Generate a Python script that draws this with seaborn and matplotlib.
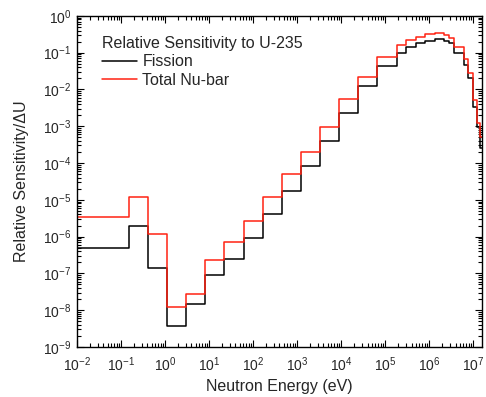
import numpy as np
import pandas as pd
import matplotlib
matplotlib.use("Agg")
import matplotlib.pyplot as plt
import seaborn as sns
from matplotlib.ticker import LogLocator, LogFormatterSciNotation, NullFormatter

# Energy group boundaries (eV)
group_edges = [1e-2, 0.152, 0.414, 1.125, 3.06, 8.32, 22.6, 61.4, 167, 454,
               1234, 3355, 9119, 24788, 67379, 183156, 301974, 497871, 820850,
               1.353e6, 2.231e6, 2.865e6, 3.679e6, 6.065e6, 7.788e6, 1.0e7,
               1.22e7, 1.42e7, 2.0e7]

# Relative sensitivity per unit lethargy in each group
fission = [4.8e-7, 1.95e-6, 1.38e-7, 3.8e-9, 1.48e-8, 9.1e-8, 2.5e-7, 9.4e-7,
           4.1e-6, 1.74e-5, 8.5e-5, 4.0e-4, 2.26e-3, 1.23e-2, 4.46e-2, 0.097,
           0.141, 0.188, 0.213, 0.233, 0.213, 0.181, 0.100, 0.0466, 0.0206,
           3.36e-3, 9.6e-4, 2.6e-4]
total_nubar = [3.5e-6, 1.17e-5, 1.18e-6, 1.25e-8, 2.7e-8, 2.3e-7, 7.0e-7,
               2.7e-6, 1.2e-5, 5.0e-5, 2.04e-4, 9.8e-4, 5.4e-3, 2.24e-2, 7.8e-2,
               0.163, 0.222, 0.274, 0.324, 0.339, 0.304, 0.248, 0.146, 0.0665,
               0.0277, 5.2e-3, 1.23e-3, 5.1e-4]

series_names = ["Fission", "Total Nu-bar"]
series_colors = {"Fission": "black", "Total Nu-bar": "#ff2212"}

frames = []
for name, vals in zip(series_names, [fission, total_nubar]):
    frames.append(pd.DataFrame({
        "energy": group_edges,
        "value": list(vals) + [vals[-1]],
        "series": name,
    }))
df = pd.concat(frames, ignore_index=True)

sns.set_style("ticks")
plt.rcParams["font.family"] = ["Liberation Sans", "DejaVu Sans"]
plt.rcParams["mathtext.fontset"] = "custom"
plt.rcParams["mathtext.rm"] = "Liberation Sans"
plt.rcParams["mathtext.it"] = "Liberation Sans:italic"
plt.rcParams["mathtext.bf"] = "Liberation Sans:bold"

fig = plt.figure(figsize=(4.86, 3.97), dpi=100)
ax = fig.add_axes([0.158, 0.126, 0.834, 0.834])

sns.lineplot(data=df, x="energy", y="value", hue="series",
             hue_order=series_names, palette=series_colors,
             drawstyle="steps-post", linewidth=1.1, estimator=None,
             sort=False, ax=ax)

ax.set_xscale("log")
ax.set_yscale("log")
ax.set_xlim(1e-2, 1.6e7)
ax.set_ylim(1e-9, 1e0)

for axis in (ax.xaxis, ax.yaxis):
    axis.set_major_locator(LogLocator(base=10, numticks=20))
    axis.set_minor_locator(LogLocator(base=10, subs=np.arange(2, 10), numticks=200))
    axis.set_major_formatter(LogFormatterSciNotation())
    axis.set_minor_formatter(NullFormatter())

ax.tick_params(which="both", direction="in", top=True, right=True,
               color="black", width=0.8)
ax.tick_params(which="major", length=5, labelsize=10)
ax.tick_params(which="minor", length=3)
ax.tick_params(axis="x", which="major", pad=6)
ax.tick_params(axis="y", which="major", pad=4)
for sp in ax.spines.values():
    sp.set_visible(True)
    sp.set_linewidth(1.0)
    sp.set_color("black")

ax.set_xlabel("Neutron Energy (eV)", fontsize=11.5, labelpad=4)
ax.set_ylabel("Relative Sensitivity/\u0394U", fontsize=11.5, labelpad=10)

handles, labels = ax.get_legend_handles_labels()
ax.legend(handles, labels, title="Relative Sensitivity to U-235",
          loc="upper left", bbox_to_anchor=(0.063, 0.94), frameon=False,
          fontsize=11.5, title_fontsize=11.5, alignment="left",
          handlelength=2.2, handletextpad=0.3, labelspacing=0.22,
          borderpad=0, borderaxespad=0)

fig.savefig("out.png", dpi=100)
